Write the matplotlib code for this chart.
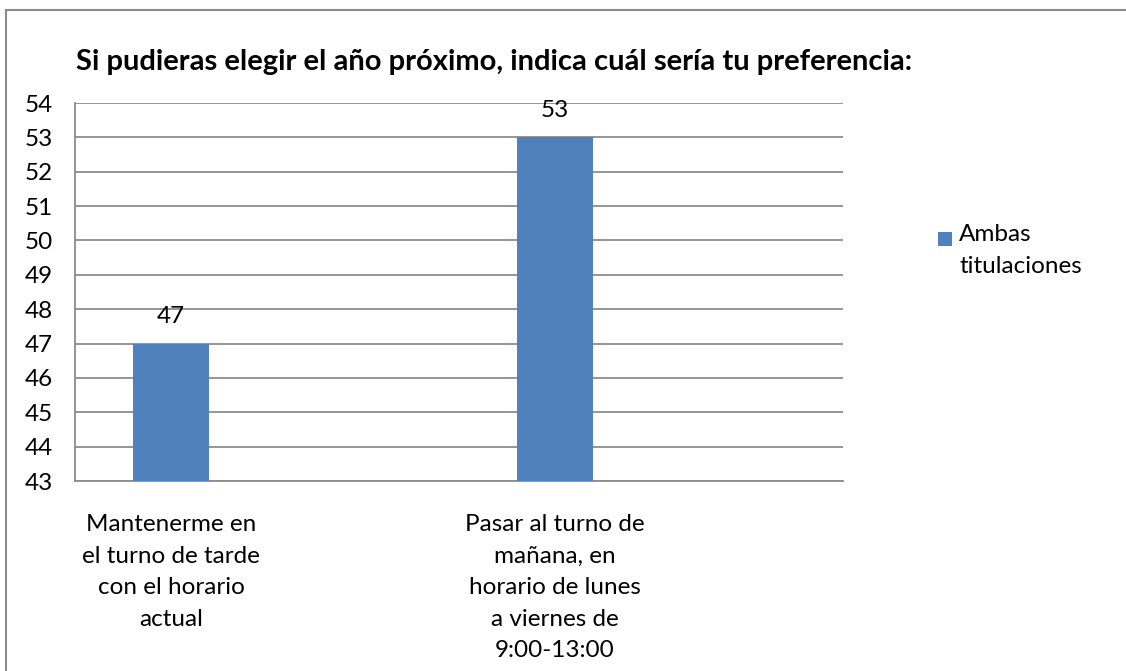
import matplotlib
matplotlib.use("Agg")
import matplotlib.pyplot as plt
from matplotlib.lines import Line2D
from matplotlib.patches import Rectangle

categories = ["Mantenerme en\nel turno de tarde\ncon el horario\nactual",
              "Pasar al turno de\nmañana, en\nhorario de lunes\na viernes de\n9:00-13:00"]
values = [47, 53]
series_name = "Ambas\ntitulaciones"
title = "Si pudieras elegir el año próximo, indica cuál sería tu preferencia:"
yticks = list(range(43, 55))

plt.rcParams['font.family'] = ['Lato', 'DejaVu Sans']

W, H = 1126, 671
fig = plt.figure(figsize=(W / 100, H / 100), dpi=100)
fig.patch.set_facecolor('white')
bar_color = '#4f81bd'

# outer border (top and left lines)
fig.add_artist(Line2D([6 / W, 6 / W], [0, 1 - 10 / H], color='#8c8c8c', lw=1.5, transform=fig.transFigure))
fig.add_artist(Line2D([6 / W, 1], [1 - 10 / H, 1 - 10 / H], color='#8c8c8c', lw=1.5, transform=fig.transFigure))

left, right, top, bottom = 75, 843, 103, 481
ax = fig.add_axes([left / W, 1 - bottom / H, (right - left) / W, (bottom - top) / H])

fs = 17.5
x = list(range(len(values)))
ax.bar(x, values, width=0.2, color=bar_color, zorder=3)
ax.set_ylim(43, 54)
ax.set_xlim(-0.25, 1.75)
ax.set_yticks(yticks)
ax.set_yticklabels([str(t) for t in yticks], fontsize=fs)
ax.set_xticks(x)
ax.set_xticklabels(categories, fontsize=fs, linespacing=1.62)
ax.tick_params(axis='both', length=0)
ax.tick_params(axis='y', pad=36)
ax.tick_params(axis='x', pad=24)
for lbl in ax.get_yticklabels():
    lbl.set_horizontalalignment('left')
ax.grid(axis='y', color='#8c8c8c', lw=1.3, zorder=0)
for s in ['top', 'right']:
    ax.spines[s].set_visible(False)
for s in ['left', 'bottom']:
    ax.spines[s].set_color('#8c8c8c')
    ax.spines[s].set_linewidth(1.3)

for xi, v in zip(x, values):
    ax.annotate(str(v), (xi, v), xytext=(0, 12), textcoords='offset points',
                ha='center', va='bottom', fontsize=fs)

fig.text(76 / W, 1 - 62 / H, title, fontsize=21, fontweight='bold', va='center', ha='left')

# legend (square aligned with first text line, as in the original)
fig.add_artist(Rectangle((938 / W, 1 - 246 / H), 14 / W, 14 / H, facecolor=bar_color,
                         edgecolor='none', transform=fig.transFigure))
fig.text(959 / W, 1 - 224 / H, series_name, fontsize=fs, ha='left', va='top',
         linespacing=1.62, transform=fig.transFigure)

fig.savefig("out.png", dpi=100)
